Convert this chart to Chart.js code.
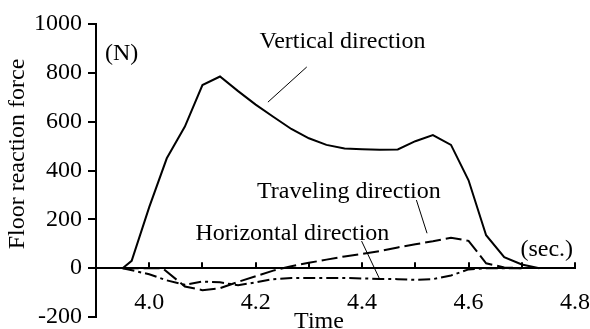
<!DOCTYPE html>
<html>
<head>
<meta charset="utf-8">
<script src="https://cdn.jsdelivr.net/npm/chart.js@4/dist/chart.umd.min.js"></script>
<style>
  html, body { margin: 0; padding: 0; background: #fff; }
  #wrap { width: 590px; height: 329px; }
</style>
</head>
<body>
<div id="wrap"><canvas id="forceChart"></canvas></div>
<script>
// Data
const vertTime = [3.95, 3.967, 4.0, 4.033, 4.067, 4.1, 4.133, 4.167, 4.2, 4.233, 4.267, 4.3, 4.333, 4.367, 4.4, 4.433, 4.467, 4.5, 4.533, 4.567, 4.6, 4.633, 4.667, 4.7, 4.733];
const vertical = [0, 30, 250, 450, 580, 750, 785, 725, 670, 620, 570, 532, 505, 490, 487, 485, 486, 520, 545, 505, 360, 135, 45, 15, 0];

const travTime = [3.95, 4.0, 4.025, 4.067, 4.1, 4.133, 4.167, 4.2, 4.233, 4.267, 4.3, 4.333, 4.367, 4.4, 4.433, 4.467, 4.5, 4.533, 4.567, 4.6, 4.633, 4.667, 4.7];
const traveling = [0, 0, 0, -75, -90, -82, -56, -33, -10, 8, 22, 35, 48, 58, 70, 85, 98, 110, 125, 112, 20, 3, 0];

const horizTime = [3.95, 4.0, 4.033, 4.067, 4.1, 4.133, 4.167, 4.2, 4.233, 4.267, 4.3, 4.333, 4.367, 4.4, 4.433, 4.467, 4.5, 4.533, 4.567, 4.6, 4.633, 4.667, 4.7];
const horizontal = [0, -25, -50, -68, -55, -58, -70, -58, -45, -40, -40, -40, -40, -42, -44, -45, -48, -45, -30, -5, 0, 0, 0];

const xMin = 3.9, xMax = 4.8, xStep = 0.1;
const yMin = -200, yMax = 1000, yStep = 200;

// text labels: [text, time, value] (baseline positions)
const notes = [
  ['Vertical direction', 4.363, 902],
  ['(N)', 3.948, 852],
  ['Traveling direction', 4.375, 287],
  ['Horizontal direction', 4.269, 115],
  ['(sec.)', 4.747, 49],
  ['Time', 4.319, -246]
];
// leader lines: [t1, v1, t2, v2]
const leaders = [
  [4.296, 824, 4.223, 680],
  [4.502, 279, 4.522, 143],
  [4.399, 111, 4.433, -45]
];

const FONT = '"Liberation Serif", "Times New Roman", serif';

function pts(xs, ys){ return xs.map((x,i)=>({x:x, y:ys[i]})); }

const extras = {
  id: 'extras',
  afterDraw(chart){
    const {ctx, scales:{x, y}} = chart;
    const y0 = y.getPixelForValue(0);
    ctx.save();
    // small upward ticks on the zero line
    ctx.strokeStyle = '#000';
    ctx.lineWidth = 2;
    x.ticks.forEach(t=>{
      if(t.value < 3.95) return;
      const px = Math.round(x.getPixelForValue(t.value));
      ctx.beginPath(); ctx.moveTo(px, y0); ctx.lineTo(px, y0-6); ctx.stroke();
    });
    // leader lines
    ctx.lineWidth = 1;
    leaders.forEach(l=>{
      ctx.beginPath();
      ctx.moveTo(x.getPixelForValue(l[0]), y.getPixelForValue(l[1]));
      ctx.lineTo(x.getPixelForValue(l[2]), y.getPixelForValue(l[3]));
      ctx.stroke();
    });
    // texts
    ctx.fillStyle = '#000';
    ctx.font = '24px ' + FONT;
    ctx.textAlign = 'center';
    ctx.textBaseline = 'alphabetic';
    notes.forEach(n=>{
      ctx.fillText(n[0], x.getPixelForValue(n[1]), y.getPixelForValue(n[2]));
    });
    // y title
    ctx.translate(18, 154);
    ctx.rotate(-Math.PI/2);
    ctx.textBaseline = 'middle';
    ctx.fillText('Floor reaction force', 0, 0);
    ctx.restore();
  }
};

new Chart(document.getElementById('forceChart'), {
  type: 'line',
  data: {
    datasets: [
      {label:'Vertical direction', data: pts(vertTime, vertical), borderColor:'#000', borderWidth:2, pointRadius:0, tension:0, fill:false},
      {label:'Traveling direction', data: pts(travTime, traveling), borderColor:'#000', borderWidth:2, borderDash:[16,5], pointRadius:0, tension:0, fill:false},
      {label:'Horizontal direction', data: pts(horizTime, horizontal), borderColor:'#000', borderWidth:2, borderDash:[12,4,3,4], pointRadius:0, tension:0, fill:false}
    ]
  },
  options: {
    responsive: true,
    maintainAspectRatio: false,
    animation: false,
    layout: { padding: { left: 0, right: 15, top: 24, bottom: 12 } },
    plugins: { legend: { display: false }, tooltip: { enabled: false } },
    scales: {
      x: {
        type: 'linear',
        min: xMin, max: xMax,
        position: { y: 0 },
        afterFit: s => { s.height = 0; s.paddingLeft = 0; s.paddingRight = 0; },
        border: { display: true, color: '#000', width: 2 },
        grid: { display: true, drawOnChartArea: false, drawTicks: false },
        ticks: {
          stepSize: xStep, autoSkip: false, maxRotation: 0, padding: 20,
          color: '#000', font: { family: FONT, size: 24 },
          callback: v => {
            const n = Math.round(v*10);
            return (n % 2 === 0 && n >= 40) ? (n/10).toFixed(1) : '';
          }
        }
      },
      y: {
        min: yMin, max: yMax,
        afterFit: s => { s.width = 96; s.paddingTop = 0; s.paddingBottom = 0; },
        border: { display: true, color: '#000', width: 2 },
        grid: { drawOnChartArea: false, drawTicks: true, tickLength: 8, tickColor: '#000', lineWidth: 2 },
        ticks: { stepSize: yStep, padding: 6, color: '#000', font: { family: FONT, size: 24 }, callback: v => String(v) }
      }
    }
  },
  plugins: [extras]
});
</script>
</body>
</html>
